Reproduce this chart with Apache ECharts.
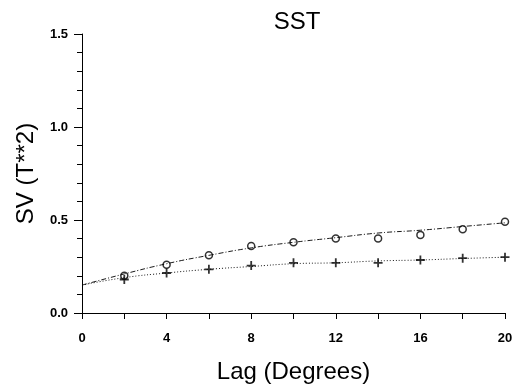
<!DOCTYPE html>
<html>
<head>
<meta charset="utf-8">
<script src="https://cdn.jsdelivr.net/npm/echarts@6/dist/echarts.min.js"></script>
<style>
  html, body { margin: 0; padding: 0; background: #fff; }
  #chart { width: 519px; height: 389px; }
</style>
</head>
<body>
<div id="chart"></div>
<script>
// 数据：滞后距离与半变异值
var lags = [2, 4, 6, 8, 10, 12, 14, 16, 18, 20];
var circleVals = [0.20, 0.26, 0.31, 0.36, 0.38, 0.40, 0.40, 0.42, 0.45, 0.49];
var crossVals = [0.18, 0.215, 0.235, 0.255, 0.27, 0.27, 0.27, 0.285, 0.295, 0.30];
// 拟合曲线
var fitLags = [0, 2, 4, 6, 8, 10, 12, 14, 16, 18, 20];
var fitUpper = [0.15, 0.21, 0.265, 0.31, 0.35, 0.38, 0.405, 0.43, 0.445, 0.465, 0.485];
var fitLower = [0.15, 0.19, 0.215, 0.235, 0.25, 0.265, 0.27, 0.28, 0.285, 0.293, 0.30];

function pairs(xs, ys) {
  return xs.map(function (x, i) { return [x, ys[i]]; });
}

var font = 'Liberation Sans, Arial, sans-serif';
var myChart = echarts.init(document.getElementById('chart'));
var option = {
  animation: false,
  backgroundColor: '#fff',
  title: {
    text: 'SST',
    left: 292,
    top: 5,
    textAlign: 'center',
    textStyle: { fontFamily: font, fontSize: 24, fontWeight: 'normal', color: '#000' }
  },
  grid: { left: 82, right: 14, top: 34, bottom: 76 },
  xAxis: {
    type: 'value',
    min: 0, max: 20, interval: 4,
    name: 'Lag (Degrees)',
    nameLocation: 'middle',
    nameGap: 47,
    nameTextStyle: { fontFamily: font, fontSize: 24, color: '#000' },
    axisLine: { lineStyle: { color: '#000', width: 1.2 } },
    axisTick: { length: 6, lineStyle: { color: '#000' } },
    minorTick: { show: true, splitNumber: 2, length: 6, lineStyle: { color: '#000' } },
    axisLabel: { fontFamily: font, fontSize: 13, fontWeight: 'bold', color: '#000', margin: 19 },
    splitLine: { show: false }
  },
  yAxis: {
    type: 'value',
    min: 0, max: 1.5, interval: 0.5,
    name: 'SV (T**2)',
    nameLocation: 'middle',
    nameGap: 44,
    nameTextStyle: { fontFamily: font, fontSize: 24, color: '#000' },
    axisLine: { show: true, lineStyle: { color: '#000', width: 1 } },
    axisTick: { length: 8, lineStyle: { color: '#000' } },
    minorTick: { show: true, splitNumber: 5, length: 5, lineStyle: { color: '#000' } },
    axisLabel: {
      fontFamily: font, fontSize: 13, fontWeight: 'bold', color: '#000', margin: 14,
      formatter: function (v) { return v.toFixed(1); }
    },
    splitLine: { show: false }
  },
  series: [
    {
      type: 'line',
      data: pairs(fitLags, fitUpper),
      smooth: true,
      showSymbol: false,
      lineStyle: { color: '#000', width: 0.9, type: [5, 2, 1, 2] }
    },
    {
      type: 'line',
      data: pairs(fitLags, fitLower),
      smooth: true,
      showSymbol: false,
      lineStyle: { color: '#000', width: 0.9, type: [1, 2] }
    },
    {
      type: 'scatter',
      data: pairs(lags, circleVals),
      symbol: 'circle',
      symbolSize: 7,
      itemStyle: { color: '#fff', borderColor: '#000', borderWidth: 1.5 }
    },
    {
      type: 'scatter',
      data: pairs(lags, crossVals),
      symbol: 'path://M4,0 L6,0 L6,4 L10,4 L10,6 L6,6 L6,10 L4,10 L4,6 L0,6 L0,4 L4,4 Z',
      symbolSize: 9,
      itemStyle: { color: '#000' }
    }
  ]
};
myChart.setOption(option);
</script>
</body>
</html>
